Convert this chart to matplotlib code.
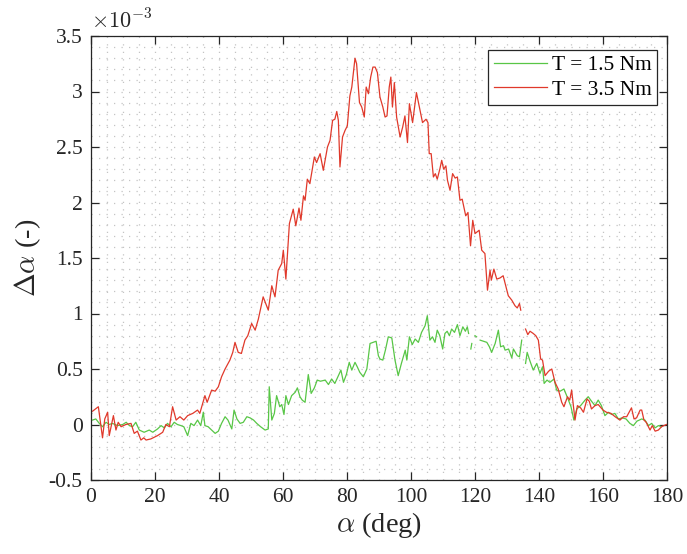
import numpy as np
import matplotlib
matplotlib.use("Agg")
import matplotlib.pyplot as plt
from matplotlib.ticker import MultipleLocator, FixedLocator

plt.rcParams['font.family'] = ['Liberation Serif', 'DejaVu Serif']
plt.rcParams['mathtext.fontset'] = 'cm'
plt.rcParams['axes.unicode_minus'] = False

# values of delta-alpha in units of 1e-3; NaN = gap in the measurement
red_deg = [0.5, 2.3, 3.6, 4.3, 5.2, 5.7, 7.0, 7.8, 8.5, 9.4, 10.9, 12.5, 13.5, 14.5, 15.6, 16.5,
           17.2, 18.7, 20.8, 22.4, 23.4, 24.5, 25.5, 26.6, 27.8, 29.0, 30.2, 31.8, 33.3, 34.0,
           35.0, 35.6, 36.3, 37.7, 38.8, 39.8, 40.8, 41.9, 43.4, 44.3, 45.0, 46.0, 47.0, 48.1,
           49.0, 50.2, 51.3, 52.3, 53.8, 55.4, 56.5, 57.5, 58.5, 59.6, 60.1, 60.9, 62.0, 63.2,
           64.0, 65.0, 65.6, 66.4, 66.9, 67.6, 68.4, 69.8, 70.5, 71.6, 72.6, 73.9, 74.7, 75.5,
           76.2, 76.8, 77.3, 77.8, 78.6, 79.4, 80.1, 80.9, 81.5, 82.5, 83.0, 83.9, 84.6, 85.4,
           86.0, 86.7, 87.4, 88.1, 88.8, 89.5, 90.3, 91.2, 91.9, 92.5, 93.2, 93.7, 94.2, 94.8,
           95.5, 96.6, 97.4, 98.1, 98.9, 99.5, 100.5, 101.7, 102.6, 103.6, 104.7, 105.3, 105.7,
           106.3, 107.0, 107.6, 108.2, 109.0, 109.6, 110.2, 110.9, 111.4, 112.2, 113.0, 113.8,
           114.5, 115.3, 116.0, 117.1, 117.8, 118.6, 119.3, 120.0, 121.3, 122.1, 123.1, 123.9,
           124.7, 125.1, 125.9, 126.8, 127.8, 128.8, 129.7, 130.4, 131.5, 132.5, 133.2, 133.9,
           134.3, 135.0, 135.8, 136.5, 137.2, 138.2, 139.0, 139.8, 140.5, 141.1, 141.9, 143.0,
           144.0, 145.0, 146.0, 147.1, 147.8, 148.9, 149.6, 150.2, 150.9, 151.25, 152.0, 153.0,
           153.9, 155.0, 155.7, 156.4, 157.5, 158.5, 160.0, 161.1, 162.5, 163.8, 165.3, 166.4,
           167.4, 168.9, 169.7, 170.5, 171.6, 172.1, 172.8, 173.5, 174.7, 175.4, 176.3, 177.3,
           178.3, 179.8]
red_val = [0.12, 0.16, -0.12, 0.05, 0.11, -0.10, 0.08, -0.05, 0.02, -0.02, 0.00, 0.01, -0.08, -0.06,
           -0.14, -0.12, -0.14, -0.13, -0.10, -0.07, 0.00, -0.02, 0.16, 0.04, 0.07, 0.04, 0.08,
           0.10, 0.13, 0.10, 0.20, 0.26, 0.20, 0.31, 0.30, 0.34, 0.43, 0.50, 0.58, 0.65, 0.74,
           0.65, 0.64, 0.76, 0.80, 0.91, 0.85, 0.95, 1.15, 1.03, 1.25, 1.15, 1.39, 1.45, 1.57,
           1.31, 1.81, 1.94, 1.79, 1.95, 1.84, 2.06, 2.02, 2.21, 2.17, 2.41, 2.36, 2.44, 2.29,
           2.50, 2.56, 2.74, 2.75, 2.82, 2.74, 2.32, 2.59, 2.65, 2.69, 2.96, 3.04, 3.30, 3.25,
           2.90, 2.86, 2.77, 3.04, 2.98, 3.13, 3.22, 3.22, 3.17, 2.95, 2.86, 2.77, 2.78, 3.04,
           3.13, 2.86, 3.08, 2.77, 2.59, 2.68, 2.78, 2.54, 2.89, 2.72, 2.99, 2.86, 2.72, 2.75,
           2.72, 2.44, 2.44, 2.23, 2.26, 2.21, 2.30, 2.38, 2.30, 2.33, 2.20, 2.11, 2.26, 2.22,
           2.23, 2.02, 2.03, 1.88, 1.91, 1.61, 1.84, 1.72, 1.75, 1.57, 1.54, 1.21, 1.39, 1.30,
           1.40, 1.31, 1.32, 1.34, 1.24, 1.16, 1.12, 1.07, 1.05, 1.09, 1.03, np.nan, 0.86, 0.81,
           0.84, 0.82, 0.80, 0.76, 0.59, 0.58, 0.44, 0.48, 0.50, 0.38, 0.32, 0.20, 0.16, 0.25,
           0.22, 0.31, 0.13, 0.04, 0.17, 0.15, 0.11, 0.23, 0.21, 0.14, 0.17, 0.18, 0.13, 0.11,
           0.10, 0.07, 0.04, 0.07, 0.07, 0.15, 0.05, 0.06, 0.13, 0.13, 0.04, 0.02, -0.05, -0.01,
           -0.06, -0.05, -0.02, 0.00]

green_deg = [0.5, 1.5, 2.6, 3.6, 4.7, 5.7, 6.7, 8.3, 9.9, 11.0, 12.0, 13.0, 14.0, 15.1, 16.6, 18.2,
             19.3, 20.8, 21.9, 22.9, 23.9, 25.0, 26.0, 27.0, 28.1, 29.0, 30.2, 31.2, 32.2, 33.3,
             34.3, 35.1, 35.6, 36.6, 37.7, 38.8, 39.8, 40.8, 41.9, 42.8, 44.0, 44.7, 45.6, 46.6,
             47.6, 48.7, 49.7, 50.8, 51.8, 53.0, 54.4, 55.4, 55.7, 56.5, 57.3, 58.0, 59.0, 59.6,
             60.3, 60.9, 61.7, 62.7, 63.8, 64.5, 65.3, 66.0, 66.9, 67.9, 68.8, 69.8, 70.7, 71.7,
             73.2, 74.2, 75.2, 76.2, 77.3, 78.1, 78.9, 79.8, 80.7, 81.5, 82.5, 83.2, 84.0, 85.1,
             86.2, 87.2, 88.2, 89.1, 89.8, 90.3, 91.2, 92.0, 92.9, 94.0, 95.0, 96.0, 97.0, 98.2,
             98.7, 99.5, 100.4, 101.3, 102.3, 103.3, 104.4, 105.1, 105.9, 106.7, 107.5, 108.2,
             109.0, 109.9, 110.6, 111.3, 112.0, 112.7, 113.6, 114.5, 115.3, 116.2, 117.0, 117.6,
             118.0, 118.3, 118.7, 119.0, 119.5, 120.0, 120.5, 121.0, 121.6, 122.6, 123.7, 124.5,
             125.2, 126.3, 127.3, 128.0, 128.9, 129.4, 130.5, 131.5, 132.0, 133.2, 133.9, 134.6,
             135.2, 135.8, 136.3, 137.2, 138.2, 139.3, 140.3, 141.1, 141.6, 142.5, 143.4, 144.7,
             145.5, 146.6, 147.8, 149.2, 150.0, 150.9, 151.8, 153.0, 154.4, 155.4, 156.4, 157.5,
             158.5, 159.5, 160.6, 161.7, 162.7, 163.7, 164.8, 166.0, 167.2, 168.4, 169.5, 170.6,
             172.1, 173.1, 174.2, 175.2, 176.3, 177.3, 178.3]
green_val = [0.04, 0.05, 0.01, -0.02, 0.02, 0.00, 0.01, -0.01, 0.00, 0.02, -0.01, -0.02, 0.02, -0.05,
             -0.07, -0.05, -0.07, -0.04, -0.01, -0.03, 0.01, -0.02, 0.02, 0.00, -0.01, -0.02,
             -0.10, 0.01, -0.01, 0.04, -0.01, 0.11, -0.01, -0.02, -0.05, -0.08, -0.06, 0.01, 0.07,
             0.04, -0.04, 0.13, 0.05, 0.01, 0.02, 0.07, 0.06, 0.04, 0.01, -0.02, -0.05, -0.04,
             0.34, 0.04, 0.10, 0.26, 0.16, 0.18, 0.09, 0.26, 0.18, 0.26, 0.29, 0.33, 0.25, 0.22,
             0.20, 0.45, 0.28, 0.33, 0.40, 0.39, 0.40, 0.36, 0.41, 0.37, 0.44, 0.49, 0.38, 0.45,
             0.56, 0.49, 0.56, 0.52, 0.47, 0.43, 0.50, 0.73, 0.74, 0.75, 0.62, 0.59, 0.58, 0.67,
             0.79, 0.78, 0.58, 0.44, 0.55, 0.67, 0.58, 0.79, 0.72, 0.77, 0.74, 0.83, 0.89, 0.98,
             0.76, 0.79, 0.74, 0.85, 0.80, 0.68, 0.82, 0.84, 0.80, 0.86, 0.83, 0.90, 0.80, 0.88,
             0.84, 0.88, 0.82, np.nan, 0.68, 0.73, np.nan, 0.80, 0.79, np.nan, 0.76, 0.75, 0.74,
             0.70, 0.65, 0.73, 0.85, 0.70, 0.71, 0.67, 0.68, 0.60, 0.68, 0.62, 0.61, 0.76, np.nan,
             0.55, 0.65, 0.57, 0.49, 0.55, 0.46, 0.52, 0.37, 0.40, 0.38, 0.41, 0.31, 0.30, 0.32,
             0.22, 0.16, 0.04, 0.14, 0.17, 0.22, 0.25, 0.21, 0.17, 0.22, 0.17, 0.08, 0.11, 0.09,
             0.10, 0.05, 0.06, 0.05, 0.01, -0.01, 0.03, 0.05, 0.04, -0.01, 0.01, -0.03, -0.01,
             -0.02]

series_labels = ['T = 1.5 Nm', 'T = 3.5 Nm']
x_ticks = [0, 20, 40, 60, 80, 100, 120, 140, 160, 180]
y_ticks = [-0.5, 0, 0.5, 1, 1.5, 2, 2.5, 3, 3.5]
y_ticklabels = ['-0.5', '0', '0.5', '1', '1.5', '2', '2.5', '3', '3.5']

fig = plt.figure(figsize=(6.87, 5.54), dpi=100)
ax = fig.add_axes([91/687, 1-480/554, 576/687, 444/554])

ax.plot(green_deg, green_val, color='#58c646', lw=0.9, label=series_labels[0])
ax.plot(red_deg, red_val, color='#e0392b', lw=0.9, label=series_labels[1])

ax.set_xlim(0, 180)
ax.set_ylim(-0.5, 3.5)
ax.xaxis.set_major_locator(FixedLocator(x_ticks))
ax.yaxis.set_major_locator(FixedLocator(y_ticks))
ax.set_yticklabels(y_ticklabels)
ax.xaxis.set_minor_locator(MultipleLocator(5))
ax.yaxis.set_minor_locator(MultipleLocator(0.1))

ax.grid(which='both', color='#c4c4c4', linestyle=(0, (1, 5)), linewidth=0.9)
ax.set_axisbelow(True)
ax.tick_params(which='major', direction='in', length=6, width=0.9, top=True, right=True,
               labelsize=15.5, pad=6, colors='#262626')
ax.tick_params(which='minor', length=0, top=True, right=True)
for s in ax.spines.values():
    s.set_color('#262626')
    s.set_linewidth(0.9)

ax.set_xlabel(r'$\alpha$ (deg)', fontsize=20.5, color='#262626', labelpad=2)
ax.set_ylabel(r'$\Delta\alpha$ (-)', fontsize=20.5, color='#262626', labelpad=4)

ax.text(0.0, 1.006, r'$\times10^{-3}$', transform=ax.transAxes, fontsize=16,
        ha='left', va='bottom', color='#262626')

leg = ax.legend(loc='upper right', bbox_to_anchor=(0.9826, 0.9685), borderaxespad=0,
                fontsize=15.5, fancybox=False, framealpha=1, edgecolor='#262626',
                handlelength=2.5, handletextpad=0.2, borderpad=0.25, labelspacing=0.2)
leg.get_frame().set_linewidth(0.9)

fig.savefig('out.png', dpi=100)
